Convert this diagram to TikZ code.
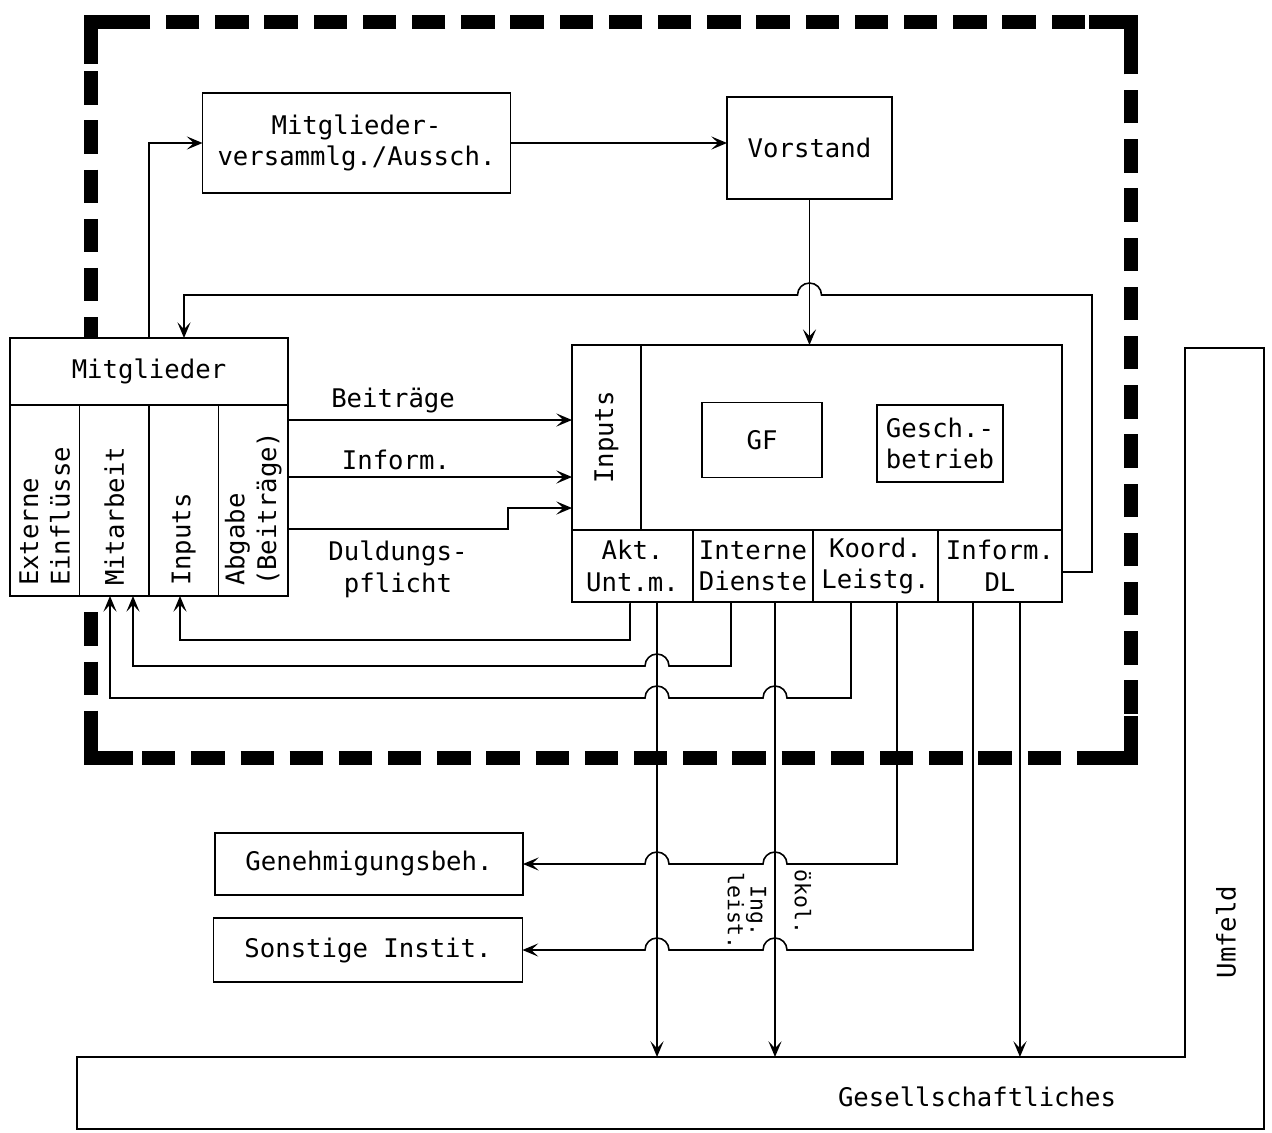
\documentclass[tikz,border=0pt]{standalone}
\usepackage{fontspec}
\setmonofont{DejaVu Sans Mono}
\usepackage{tikz}
\usetikzlibrary{arrows.meta,positioning}
\pgfdeclarelayer{background}
\pgfsetlayers{background, main}

\begin{document}
\begin{tikzpicture}[
    x=0.02cm, y=-0.02cm,
    every node/.style={
        font=\ttfamily\fontsize{14.6}{18}\selectfont
    },
    box/.style={
        draw,
        rectangle,
        align=center,
        inner sep=1pt,
        outer sep=0pt,
        line width=0.9pt
    },
    colbox/.style={
        draw,
        rectangle,
        fill=white,
        rotate=90,
        align=left,
        text width=3.42cm,
        inner xsep=0.2cm,
        outer sep=0pt,
        minimum height=1.39cm,
        line width=0.9pt
    },
    cell/.style={
        box,
        minimum height=1.44cm
    },
    arrow/.style={-{Stealth[length=9pt,width=7.5pt,inset=4pt]}, line width=0.9pt},
    hop/.style={insert path={arc[start angle=0, end angle=180, radius=0.24cm]}},
    outerframe/.style={line width=8pt, dash pattern=on 19pt off 9pt},
    framecorner/.style={line width=8pt}
]

\useasboundingbox (0,0) rectangle (1272,1133);

%-----------------------------------------------
% TOP: Mitgliederversammlung and Vorstand
%-----------------------------------------------
\node[box, minimum width=6.16cm, minimum height=2.0cm]
    (mv) at (356.5,143) {Mitglieder-\\versammlg./Aussch.};

\node[box, minimum width=3.3cm, minimum height=2.04cm]
    (vorstand) at (809.5,148) {Vorstand};

%-----------------------------------------------
% LEFT: Mitglieder
%-----------------------------------------------
\node[box, fill=white, minimum width=5.56cm, minimum height=1.34cm]
    (mitgl) at (149,371.5) {Mitglieder};

\node[colbox] (extm)   at (44.75,500.5)  {Externe\\Einflüsse};
\node[colbox] (mitarb) at (114.25,500.5) {Mitarbeit};
\node[colbox] (inpm)   at (183.75,500.5) {Inputs};
\node[colbox] (abg)    at (253.25,500.5) {Abgabe\\(Beiträge)};

%-----------------------------------------------
% RIGHT: Geschaeftsstelle
%-----------------------------------------------
\node[draw, line width=0.9pt, outer sep=0pt, minimum width=9.8cm, minimum height=3.7cm]
    (gsbox) at (817,437.5) {};

\node[colbox, align=center, text width=3.3cm, minimum height=1.38cm]
    (inpg) at (606.5,437.5) {Inputs};

\node[box, minimum width=2.4cm, minimum height=1.5cm]
    (gf) at (762,440) {GF};

\node[box, align=left, minimum width=2.52cm, minimum height=1.54cm]
    (gesch) at (940,443.5) {Gesch.-\\betrieb};

\node[cell, minimum width=2.42cm,
      below right=0pt and 0pt of gsbox.south west]
    (akt) {Akt.\\Unt.m.};
\node[cell, minimum width=2.4cm, right=0pt of akt]
    (interne) {Interne\\Dienste};
\node[cell, minimum width=2.5cm, right=0pt of interne]
    (koord) {Koord.\\Leistg.};
\node[cell, minimum width=2.48cm, right=0pt of koord]
    (inform) {Inform.\\DL};

%-----------------------------------------------
% BOTTOM: Behoerden, Institutionen, Umfeld
%-----------------------------------------------
\node[box, minimum width=6.16cm, minimum height=1.24cm]
    (genehm) at (369,864) {Genehmigungsbeh.};

\node[box, minimum width=6.18cm, minimum height=1.28cm]
    (sonst) at (368,950) {Sonstige Instit.};

\draw[line width=0.9pt] (77,1057) -- (1185,1057) -- (1185,348) -- (1264,348)
    -- (1264,1129) -- (77,1129) -- cycle;
\coordinate (umtop) at (0,1057);

\node (gesell) at (977,1097) {Gesellschaftliches};
\node[rotate=90] (umfeld) at (1226,932) {Umfeld};

\node[rotate=-90, align=center, font=\ttfamily\fontsize{12.2}{11.3}\selectfont]
    (ingl) at (747,911) {Ing.\\leist.};
\node[rotate=-90, font=\ttfamily\fontsize{12.2}{11.3}\selectfont]
    (oekol) at (803,902) {ökol.};

%-----------------------------------------------
% OUTLET POINTS below the Geschaeftsstelle
%-----------------------------------------------
\coordinate (a1) at ([xshift=-0.05cm]akt.south);
\coordinate (a2) at ([xshift=0.49cm]akt.south);
\coordinate (i1) at ([xshift=-0.44cm]interne.south);
\coordinate (i2) at ([xshift=0.44cm]interne.south);
\coordinate (k1) at ([xshift=-0.49cm]koord.south);
\coordinate (k2) at ([xshift=0.43cm]koord.south);
\coordinate (f1) at ([xshift=-0.54cm]inform.south);
\coordinate (f2) at ([xshift=0.4cm]inform.south);

%-----------------------------------------------
% ARROWS
%-----------------------------------------------
\draw[arrow] (mitgl.north) |- (mv.west);
\draw[arrow] (mv.east) -- (mv.east -| vorstand.west);
\draw[arrow] (vorstand.south) -- (vorstand.south |- gsbox.north);

% feedback from Inform. DL back to the members
\draw[arrow] ([yshift=-0.12cm]inform.east) -- (1092,572) -- (1092,295)
    -- (821.5,295) [hop] -- (184,295) -- ([xshift=0.7cm]mitgl.north);

\draw[arrow] (mitgl.east |- 0,420) -- node[above, pos=0.37] {Beiträge}
    (gsbox.west |- 0,420);
\draw[arrow] (mitgl.east |- 0,477) -- node[above, pos=0.38] {Inform.}
    (gsbox.west |- 0,477);
\draw[arrow] (mitgl.east |- 0,529) -- node[below=3pt, align=center] {Duldungs-\\pflicht}
    (508,529) |- (gsbox.west |- 0,508);

% returns to the members
\draw[arrow] (a1) -- (630,640) -- (180,640) -- ([xshift=-0.075cm]inpm.west);
\draw[arrow] (i1) -- (731,666) -- (669,666) [hop] -- (133,666)
    -- ([xshift=0.375cm]mitarb.west);
\draw[arrow] (k1) -- (851,698) -- (787,698) [hop] -- (669,698) [hop]
    -- (110,698) -- ([xshift=-0.085cm]mitarb.west);

% outputs to the environment
\draw[arrow] (k2) -- (897,864) -- (787,864) [hop] -- (669,864) [hop] -- (genehm.east);
\draw[arrow] (f1) -- (973,950) -- (787,950) [hop] -- (669,950) [hop] -- (sonst.east);
\draw[arrow] (a2) -- (a2 |- umtop);
\draw[arrow] (i2) -- (i2 |- umtop);
\draw[arrow] (f2) -- (f2 |- umtop);

%-----------------------------------------------
% DASHED SYSTEM BOUNDARY
%-----------------------------------------------
\begin{pgfonlayer}{background}
    \draw[outerframe] (91,22) rectangle (1131,758);
    \foreach \cx/\cy/\dx/\dy in {91/22/1/1, 1131/22/-1/1, 1131/758/-1/-1, 91/758/1/-1}
        \draw[framecorner] (\cx+\dx*42,\cy) -- (\cx,\cy) -- (\cx,\cy+\dy*42);
\end{pgfonlayer}

\end{tikzpicture}
\end{document}
